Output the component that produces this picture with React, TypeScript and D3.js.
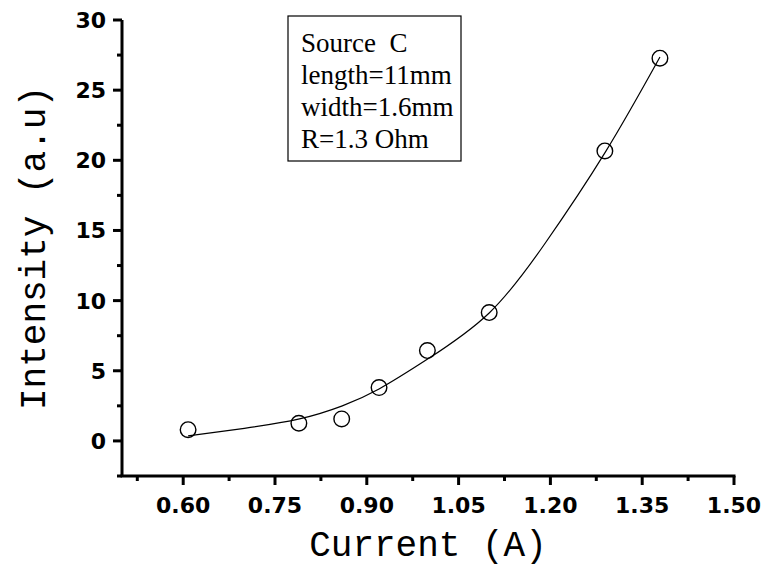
import React from "react";
import * as d3 from "d3";

// Measured intensity vs. drive current
const currentA = [0.608, 0.789, 0.859, 0.92, 0.999, 1.1, 1.289, 1.379];
const intensity = [0.8, 1.26, 1.57, 3.8, 6.44, 9.15, 20.67, 27.28];

// Fitted trend line, sampled
const fitCurrent = [0.608, 0.7, 0.79, 0.86, 0.92, 1.0, 1.1, 1.19, 1.29, 1.379];
const fitIntensity = [0.36, 0.9, 1.57, 2.5, 3.7, 5.85, 9.12, 14.0, 20.6, 27.36];

const xTicks = [0.6, 0.75, 0.9, 1.05, 1.2, 1.35, 1.5];
const xMinor = [0.525, 0.675, 0.825, 0.975, 1.125, 1.275, 1.425];
const yTicks = [0, 5, 10, 15, 20, 25, 30];
const yMinor = [-2.5, 2.5, 7.5, 12.5, 17.5, 22.5, 27.5];

const legendLines = ["Source  C", "length=11mm", "width=1.6mm", "R=1.3 Ohm"];

const W = 765;
const H = 567;
const left = 122;
const right = 734;
const top = 20;
const bottom = 476;

export default function App() {
  const x = d3.scaleLinear().domain([0.5, 1.5]).range([left, right]);
  const y = d3.scaleLinear().domain([-2.5, 30]).range([bottom, top]);

  const line = d3
    .line<number>()
    .x((_, i) => x(fitCurrent[i]))
    .y((d) => y(d))
    .curve(d3.curveNatural);

  const tickFont = "'DejaVu Sans', sans-serif";
  const titleFont = "'Liberation Mono', monospace";

  return (
    <svg
      width={W}
      height={H}
      style={{ position: "absolute", left: 0, top: 0, background: "#fff" }}
    >
      {/* fit line */}
      <path d={line(fitIntensity) || ""} fill="none" stroke="#000" strokeWidth={1.2} />

      {/* data points */}
      {currentA.map((c, i) => (
        <circle
          key={i}
          cx={x(c)}
          cy={y(intensity[i])}
          r={7.8}
          fill="none"
          stroke="#000"
          strokeWidth={1.4}
        />
      ))}

      {/* axes */}
      <line x1={left} x2={left} y1={top} y2={bottom} stroke="#000" strokeWidth={3} />
      <line x1={left - 1.5} x2={right + 1.5} y1={bottom} y2={bottom} stroke="#000" strokeWidth={3} />

      {xTicks.map((t) => (
        <g key={"xt" + t}>
          <line x1={x(t)} x2={x(t)} y1={bottom} y2={bottom + 9} stroke="#000" strokeWidth={3} />
          <text
            x={x(t)}
            y={513}
            textAnchor="middle"
            fontFamily={tickFont}
            fontWeight="bold"
            fontSize={22}
          >
            {t.toFixed(2)}
          </text>
        </g>
      ))}
      {xMinor.map((t) => (
        <line key={"xm" + t} x1={x(t)} x2={x(t)} y1={bottom} y2={bottom + 5} stroke="#000" strokeWidth={3} />
      ))}

      {yTicks.map((t) => (
        <g key={"yt" + t}>
          <line x1={left - 9} x2={left} y1={y(t)} y2={y(t)} stroke="#000" strokeWidth={3} />
          <text
            x={106}
            y={y(t)}
            dy="0.36em"
            textAnchor="end"
            fontFamily={tickFont}
            fontWeight="bold"
            fontSize={22}
          >
            {t}
          </text>
        </g>
      ))}
      {yMinor.map((t) => (
        <line key={"ym" + t} x1={left - 5} x2={left} y1={y(t)} y2={y(t)} stroke="#000" strokeWidth={3} />
      ))}

      {/* axis titles */}
      <text
        x={(left + right) / 2}
        y={556}
        textAnchor="middle"
        fontFamily={titleFont}
        fontSize={36}
      >
        Current (A)
      </text>
      <text
        transform={`translate(45, ${(top + bottom) / 2}) rotate(-90)`}
        textAnchor="middle"
        fontFamily={titleFont}
        fontSize={36}
      >
        Intensity (a.u)
      </text>

      {/* legend box */}
      <rect x={288} y={16} width={173} height={145} fill="none" stroke="#000" strokeWidth={1.2} />
      {legendLines.map((s, i) => (
        <text
          key={s}
          x={301}
          y={52 + i * 32}
          fontFamily="'Liberation Serif', 'Times New Roman', serif"
          fontSize={27}
          style={{ whiteSpace: "pre" }}
        >
          {s}
        </text>
      ))}
    </svg>
  );
}
